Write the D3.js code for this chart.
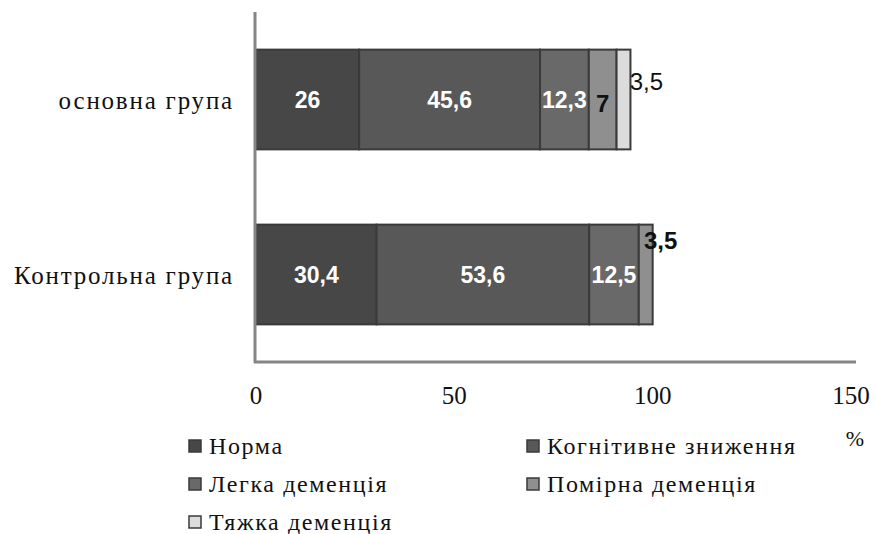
<!DOCTYPE html>
<html>
<head>
<meta charset="utf-8">
<script src="https://cdn.jsdelivr.net/npm/d3@7"></script>
<style>
  html, body { margin: 0; padding: 0; background: #fff; }
  svg { display: block; }
  .serif { font-family: "Liberation Serif", "Times New Roman", Times, "DejaVu Serif", "Noto Serif", serif; }
  .sans { font-family: "Liberation Sans", Arial, Helvetica, sans-serif; }
</style>
</head>
<body>
<svg id="chart" width="875" height="534"></svg>
<script>
// Groups (top to bottom) and severity categories (stack order)
const groups = ["основна група", "Контрольна група"];
const seriesNames = ["Норма", "Когнітивне зниження", "Легка деменція", "Помірна деменція", "Тяжка деменція"];
const seriesColors = ["#474747", "#585858", "#696969", "#8f8f8f", "#dcdcdc"];

// Share of patients, %, per group for each category
const norma      = [26, 30.4];
const kognityvne = [45.6, 53.6];
const lehka      = [12.3, 12.5];
const pomirna    = [7, 3.5];
const tyazhka    = [3.5, 0];

const xTicks = [0, 50, 100, 150];

const seriesValues = [norma, kognityvne, lehka, pomirna, tyazhka];

const svg = d3.select("#chart");

const x = d3.scaleLinear().domain([0, 150]).range([256, 851]);
const y = d3.scaleBand().domain(groups).range([12, 362]).paddingInner(0.43).paddingOuter(0.215);

// Stack data
const rows = groups.map((g, i) => {
  const r = { group: g };
  seriesNames.forEach((s, k) => r[s] = seriesValues[k][i]);
  return r;
});
const stacked = d3.stack().keys(seriesNames)(rows);

// Bars
stacked.forEach((layer, k) => {
  svg.append("g").selectAll("rect")
    .data(layer.filter(d => d[1] - d[0] > 0))
    .join("rect")
    .attr("x", d => x(d[0]))
    .attr("y", d => y(d.data.group))
    .attr("width", d => x(d[1]) - x(d[0]))
    .attr("height", y.bandwidth())
    .attr("fill", seriesColors[k])
    .attr("stroke", "#3a3a3a")
    .attr("stroke-width", 2);
});

// Axis lines
const axisColor = "#858585";
svg.append("line").attr("x1", x(0) - 1).attr("x2", x(0) - 1).attr("y1", 12).attr("y2", 363)
  .attr("stroke", axisColor).attr("stroke-width", 3);
svg.append("line").attr("x1", x(0) - 2).attr("x2", 856).attr("y1", 362).attr("y2", 362)
  .attr("stroke", axisColor).attr("stroke-width", 3);

svg.append("g").selectAll("text").data(xTicks).join("text")
  .attr("class", "serif")
  .attr("x", d => x(d)).attr("y", 404)
  .attr("text-anchor", "middle")
  .attr("font-size", 25).attr("fill", "#111")
  .text(d => d);

svg.append("g").selectAll("text").data(groups).join("text")
  .attr("class", "serif")
  .attr("x", 234)
  .attr("y", g => y(g) + y.bandwidth() / 2 + 9)
  .attr("text-anchor", "end")
  .attr("font-size", 25).attr("letter-spacing", 1.8).attr("fill", "#111")
  .text(g => g);

svg.append("text").attr("class", "serif")
  .attr("x", 855).attr("y", 446).attr("text-anchor", "middle")
  .attr("font-size", 22).attr("fill", "#111").text("%");

// Value labels, read straight from the data arrays
const fmt = v => String(v).replace(".", ",");
stacked.forEach((layer, k) => {
  layer.forEach((d, i) => {
    const v = seriesValues[k][i];
    if (v <= 0) return;
    const cx = (x(d[0]) + x(d[1])) / 2;
    const cy = y(d.data.group) + y.bandwidth() / 2;
    let tx = cx, ty = cy + 8, fill = "#fff", weight = "bold", size = 23;
    if (k === 3) {
      fill = "#111"; size = 24;
      if (i === 0) { ty = cy + 12; }
      else { tx = x(d[1]) + 8; ty = y(d.data.group) + 24; }
    }
    if (k === 4) {
      fill = "#111"; weight = "normal"; size = 24;
      tx = x(d[1]) + 16; ty = y(d.data.group) + 40;
    }
    svg.append("text")
      .attr("class", "sans")
      .attr("x", tx).attr("y", ty)
      .attr("text-anchor", "middle")
      .attr("font-weight", weight).attr("font-size", size)
      .attr("fill", fill)
      .text(fmt(v));
  });
});

// Legend
const legendPos = [
  [188, 446], [526, 446],
  [188, 484], [526, 484],
  [188, 522]
];
const legend = svg.append("g").selectAll("g").data(seriesNames).join("g")
  .attr("transform", (d, i) => `translate(${legendPos[i][0]},${legendPos[i][1]})`);
legend.append("rect")
  .attr("x", 1).attr("y", -6).attr("width", 12).attr("height", 12)
  .attr("fill", (d, i) => seriesColors[i])
  .attr("stroke", "#3a3a3a").attr("stroke-width", 1.5);
legend.append("text")
  .attr("class", "serif")
  .attr("x", 21).attr("y", 8)
  .attr("font-size", 24).attr("letter-spacing", 1.6).attr("fill", "#111")
  .text(d => d);
</script>
</body>
</html>
